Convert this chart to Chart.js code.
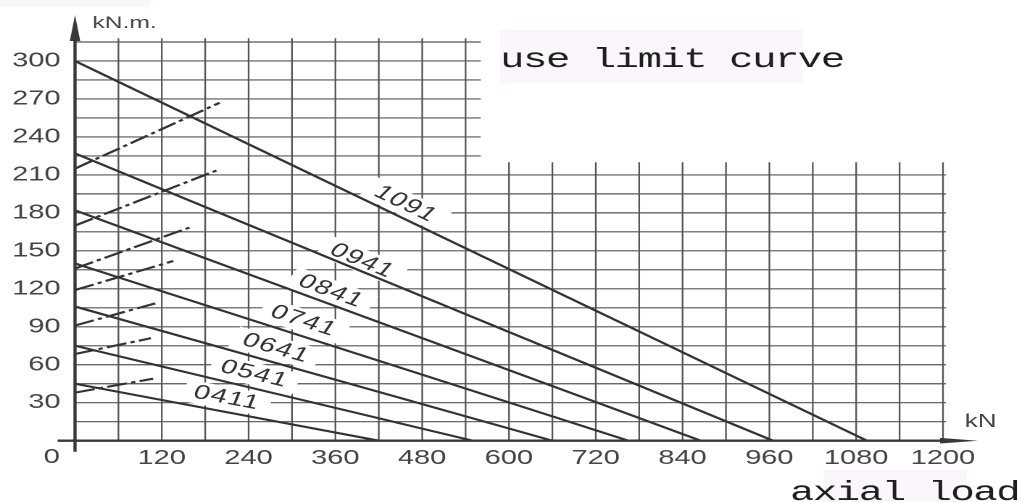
<!DOCTYPE html>
<html lang="en">
  <head>
    <meta charset="UTF-8" />
    <title>Use limit curve</title>
    <script src="https://cdn.jsdelivr.net/npm/chart.js"></script>
    <style>
      html, body { margin: 0; padding: 0; background: #fff; overflow: hidden; }
      /* the scanned sheet is stretched sideways, so the whole chart is too */
      #wrap { width: 705px; height: 502px; transform: scaleX(1.4496); transform-origin: 0 0; }
    </style>
  </head>
  <body>
    <div id="wrap"><canvas id="myChart"></canvas></div>

    <script>
      // bearing types, one straight limit line each
      const models = ["0411", "0541", "0641", "0741", "0841", "0941", "1091"];
      // tilting moment at zero axial load (kN.m) and axial load at zero moment (kN)
      const momentAtZero = [45, 75, 106, 140, 182, 227, 300];
      const axialAtZero = [420, 550, 660, 765, 865, 965, 1095];

      // dash-dot lines starting at the moment axis
      const dashStartMoment = [38, 68.5, 91, 119, 136, 170, 215];
      const dashEndAxial = [108, 105, 111, 136, 161, 198, 200];
      const dashEndMoment = [49, 81, 108.5, 142, 169, 214, 267];

      // where the type numbers sit (kN, kN.m)
      const labelAxial = [210, 248, 278, 316, 354, 397, 457];
      const labelMoment = [33.7, 52.7, 73, 94.6, 118, 142, 187];

      // ticks
      const axialTicks = [120, 240, 360, 480, 600, 720, 840, 960, 1080, 1200];
      const momentTicks = [30, 60, 90, 120, 150, 180, 210, 240, 270, 300];

      const ctx = document.getElementById("myChart").getContext("2d");
      const tickFont = { family: "Liberation Sans", size: 20 };
      const ink = "#333";

      const datasets = [];
      models.forEach((m, i) => {
        datasets.push({
          label: m,
          data: [{ x: 0, y: momentAtZero[i] }, { x: axialAtZero[i], y: 0 }],
          borderColor: ink,
          borderWidth: 2.1,
          showLine: true,
          pointRadius: 0,
        });
      });
      dashStartMoment.forEach((m, i) => {
        datasets.push({
          label: "limit " + models[i],
          data: [{ x: 0, y: m }, { x: dashEndAxial[i], y: dashEndMoment[i] }],
          borderColor: ink,
          borderWidth: 2.1,
          borderDash: [14, 3, 3, 3],
          showLine: true,
          pointRadius: 0,
        });
      });

      // the drawn sheet: full grid below 210 kN.m, upper part only on the left
      const sheet = { splitMoment: 210, upperRight: 561, upperTop: 318, lowerTop: 220, lowerRight: 1204 };

      const gridPlugin = {
        id: "sheetGrid",
        beforeDraw(chart) {
          const { ctx } = chart;
          ctx.save();
          ctx.fillStyle = "#fbf6fb";
          ctx.fillRect(345, 30, 209, 53);
          ctx.fillRect(568, 470, 99, 32);
          ctx.fillRect(0, 0, 104, 7);
          ctx.restore();
        },
        beforeDatasetsDraw(chart) {
          const { ctx, scales: { x, y } } = chart;
          const x0 = x.getPixelForValue(0);
          ctx.save();
          ctx.strokeStyle = "#555";
          ctx.lineWidth = 1.15;
          ctx.beginPath();
          y.ticks.forEach((t) => {
            if (t.value <= 0) return;
            const py = y.getPixelForValue(t.value);
            const right = t.value > sheet.splitMoment ? sheet.upperRight : sheet.lowerRight;
            ctx.moveTo(x0, py);
            ctx.lineTo(x.getPixelForValue(right), py);
          });
          x.ticks.forEach((t) => {
            if (t.value <= 0) return;
            const px = x.getPixelForValue(t.value);
            const top = t.value < sheet.upperRight ? sheet.upperTop : sheet.lowerTop;
            ctx.moveTo(px, y.getPixelForValue(0));
            ctx.lineTo(px, y.getPixelForValue(top));
          });
          ctx.stroke();

          // type numbers, parallel to their lines, on a white patch
          ctx.font = '20px "Liberation Sans"';
          ctx.letterSpacing = "1px";
          ctx.textAlign = "center";
          ctx.textBaseline = "middle";
          models.forEach((m, i) => {
            const ax = x.getPixelForValue(0), ay = y.getPixelForValue(momentAtZero[i]);
            const bx = x.getPixelForValue(axialAtZero[i]), by = y.getPixelForValue(0);
            const angle = Math.atan2(by - ay, bx - ax);
            ctx.save();
            ctx.translate(x.getPixelForValue(labelAxial[i]), y.getPixelForValue(labelMoment[i]));
            ctx.rotate(angle);
            const w = ctx.measureText(m).width;
            ctx.fillStyle = "#fff";
            ctx.fillRect(-w / 2 - 7, -11, w + 14, 22);
            ctx.fillStyle = "#333";
            ctx.fillText(m, 0, 0);
            ctx.restore();
          });
          ctx.restore();
        },
        afterDatasetsDraw(chart) {
          const { ctx, scales: { x, y } } = chart;
          const x0 = x.getPixelForValue(0), y0 = y.getPixelForValue(0);
          ctx.save();
          ctx.strokeStyle = "#383838";
          ctx.fillStyle = "#383838";
          // moment axis with arrow
          ctx.lineWidth = 2.2;
          ctx.beginPath();
          ctx.moveTo(x0, y0 + 11);
          ctx.lineTo(x0, 36);
          ctx.stroke();
          ctx.beginPath();
          ctx.moveTo(x0, 15);
          ctx.lineTo(x0 + 3.6, 41);
          ctx.lineTo(x0 - 3.6, 41);
          ctx.closePath();
          ctx.fill();
          // axial axis with arrow
          ctx.lineWidth = 2.4;
          ctx.beginPath();
          ctx.moveTo(x0 - 12, y0);
          ctx.lineTo(x.right + 6, y0);
          ctx.stroke();
          ctx.beginPath();
          ctx.moveTo(x.right + 24, y0);
          ctx.lineTo(x.right - 2, y0 - 2.8);
          ctx.lineTo(x.right - 2, y0 + 2.8);
          ctx.closePath();
          ctx.fill();

          // units and origin
          ctx.fillStyle = "#444";
          ctx.font = '17px "Liberation Sans"';
          ctx.textBaseline = "alphabetic";
          ctx.textAlign = "left";
          ctx.fillText("kN.m.", x0 + 12, 28);
          ctx.font = '18px "Liberation Sans"';
          ctx.fillText("kN", x.right + 15, 427);
          ctx.font = '20px "Liberation Sans"';
          ctx.textAlign = "center";
          ctx.textBaseline = "middle";
          ctx.fillText("0", x0 - 16, y0 + 17);

          // captions
          ctx.fillStyle = "#1e1e1e";
          ctx.font = '28px "Liberation Mono"';
          ctx.textAlign = "left";
          ctx.textBaseline = "alphabetic";
          ctx.letterSpacing = "-1px";
          ctx.fillText("use limit curve", 345, 67);
          ctx.fillText("axial load", 545, 500);
          ctx.restore();
        },
      };

      new Chart(ctx, {
        type: "scatter",
        data: { datasets: datasets },
        options: {
          responsive: true,
          maintainAspectRatio: false,
          animation: false,
          devicePixelRatio: 2,
          layout: { padding: { left: 0, right: 54.5, top: 42, bottom: 0 } },
          plugins: { legend: { display: false }, tooltip: { enabled: false } },
          scales: {
            x: {
              type: "linear",
              min: 0,
              max: 1200,
              grid: { display: false, drawTicks: false, tickLength: 0 },
              border: { display: false },
              ticks: {
                stepSize: 60,
                autoSkip: false,
                maxRotation: 0,
                padding: 6,
                color: "#444",
                font: tickFont,
                callback: (v) => (axialTicks.includes(v) ? String(v) : ""),
              },
              afterFit: (s) => { s.height = 61.3; },
            },
            y: {
              min: 0,
              max: 315,
              grid: { display: false, drawTicks: false, tickLength: 0 },
              border: { display: false },
              ticks: {
                stepSize: 15,
                autoSkip: false,
                padding: 10,
                color: "#444",
                font: tickFont,
                callback: (v) => (momentTicks.includes(v) ? String(v) : ""),
              },
              afterFit: (s) => { s.width = 51.74; },
            },
          },
        },
        plugins: [gridPlugin],
      });
    </script>
  </body>
</html>
